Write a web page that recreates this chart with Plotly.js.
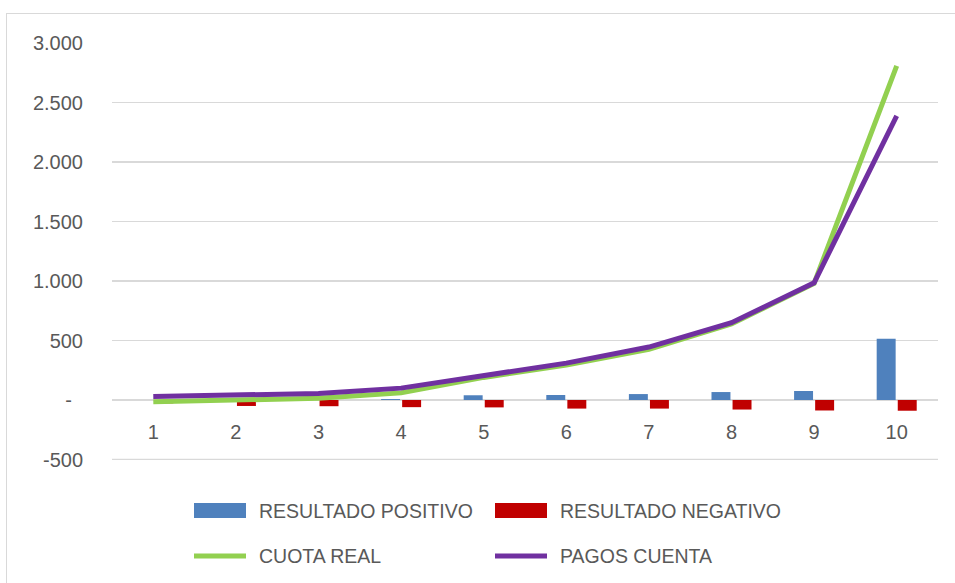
<!DOCTYPE html>
<html>
<head>
<meta charset="utf-8">
<script src="https://cdn.plot.ly/plotly-3.0.1.min.js"></script>
<style>
  html, body { margin: 0; padding: 0; background: #fff; overflow: hidden; }
  #wrap { position: relative; width: 955px; height: 583px; overflow: hidden; }
  #chart { position: absolute; left: 0; top: 0; width: 955px; height: 583px; }
  #frame { position: absolute; left: 6px; top: 13px; width: 1200px; height: 1200px;
           border: 1.5px solid #D9D9D9; pointer-events: none; }
</style>
</head>
<body>
<div id="wrap">
  <div id="chart"></div>
  <div id="frame"></div>
</div>
<script>
// ---- data ----
const categories = ['1', '2', '3', '4', '5', '6', '7', '8', '9', '10'];
const resultadoPositivo = [0, 0, 0, 8, 40, 42, 50, 67, 76, 515];
const resultadoNegativo = [-28, -50, -52, -60, -62, -72, -72, -80, -88, -90];
const cuotaReal = [-15, -5, 15, 60, 190, 295, 425, 640, 980, 2808];
const pagosCuenta = [30, 40, 55, 100, 200, 310, 445, 650, 985, 2387];
const yTickVals = [-500, 0, 500, 1000, 1500, 2000, 2500, 3000];
const yTickText = ['-500', '-\u00a0\u00a0', '500', '1.000', '1.500', '2.000', '2.500', '3.000'];
const seriesNames = ['RESULTADO POSITIVO', 'RESULTADO NEGATIVO', 'CUOTA REAL', 'PAGOS CUENTA'];
const seriesColors = ['#4F81BD', '#C00000', '#92D050', '#7030A0'];

const FONT = 'Liberation Sans, Arial, sans-serif';
const TXT = '#595959';
const GRID = '#D9D9D9';

const traces = [
  { type: 'bar', x: categories, y: resultadoPositivo, name: seriesNames[0],
    marker: { color: seriesColors[0] } },
  { type: 'bar', x: categories, y: resultadoNegativo, name: seriesNames[1],
    marker: { color: seriesColors[1] } },
  { type: 'scatter', mode: 'lines', x: categories, y: cuotaReal, name: seriesNames[2],
    line: { color: seriesColors[2], width: 5 } },
  { type: 'scatter', mode: 'lines', x: categories, y: pagosCuenta, name: seriesNames[3],
    line: { color: seriesColors[3], width: 5 } }
];

// plot area in px: x 112..938, y 43..460
const L = 112, R = 938, T = 43, B = 460;
const px = v => (v - L) / (R - L);
const py = v => (B - v) / (B - T);

const yMin = -504, yMax = 3000;

const shapes = [
  // bottom gridline (-500), which plotly omits at the edge
  { type: 'line', xref: 'paper', yref: 'y', x0: 0, x1: 1, y0: yTickVals[0], y1: yTickVals[0],
    layer: 'below', line: { color: GRID, width: 1.4 } },
  { type: 'rect', xref: 'paper', yref: 'paper', x0: px(194), x1: px(246), y0: py(518), y1: py(503),
    fillcolor: seriesColors[0], line: { width: 0 } },
  { type: 'rect', xref: 'paper', yref: 'paper', x0: px(495), x1: px(547), y0: py(518), y1: py(503),
    fillcolor: seriesColors[1], line: { width: 0 } },
  { type: 'line', xref: 'paper', yref: 'paper', x0: px(194), x1: px(246), y0: py(556), y1: py(556),
    line: { color: seriesColors[2], width: 5 } },
  { type: 'line', xref: 'paper', yref: 'paper', x0: px(495), x1: px(547), y0: py(556), y1: py(556),
    line: { color: seriesColors[3], width: 5 } }
];

const legPos = [[257, 511], [558, 511], [257, 556], [558, 556]];
const annotations = seriesNames.map((n, i) => ({
  xref: 'paper', yref: 'paper', x: px(legPos[i][0]), y: py(legPos[i][1]),
  xanchor: 'left', yanchor: 'middle', showarrow: false, text: n,
  font: { family: FONT, size: 19.5, color: TXT }
}));

const layout = {
  width: 955, height: 583,
  margin: { l: L, r: 955 - R, t: T, b: 583 - B, pad: 0 },
  paper_bgcolor: '#ffffff', plot_bgcolor: '#ffffff',
  showlegend: false,
  barmode: 'group', bargap: 0.49, bargroupgap: 0.1,
  font: { family: FONT, color: TXT },
  xaxis: {
    type: 'category', range: [-0.5, 9.5],
    anchor: 'free', position: (0 - yMin) / (yMax - yMin),
    showgrid: false, zeroline: false, showline: false,
    ticks: '', ticklabelstandoff: 18,
    tickfont: { family: FONT, size: 20, color: TXT }
  },
  yaxis: {
    range: [yMin, yMax],
    tickvals: yTickVals, ticktext: yTickText,
    showgrid: true, gridcolor: GRID, gridwidth: 1.4,
    zeroline: true, zerolinecolor: GRID, zerolinewidth: 1.6,
    showline: false, ticks: '', ticklabelstandoff: 28,
    tickfont: { family: FONT, size: 20, color: TXT }
  },
  shapes: shapes,
  annotations: annotations
};

Plotly.newPlot('chart', traces, layout, { staticPlot: true, displayModeBar: false });
</script>
</body>
</html>
